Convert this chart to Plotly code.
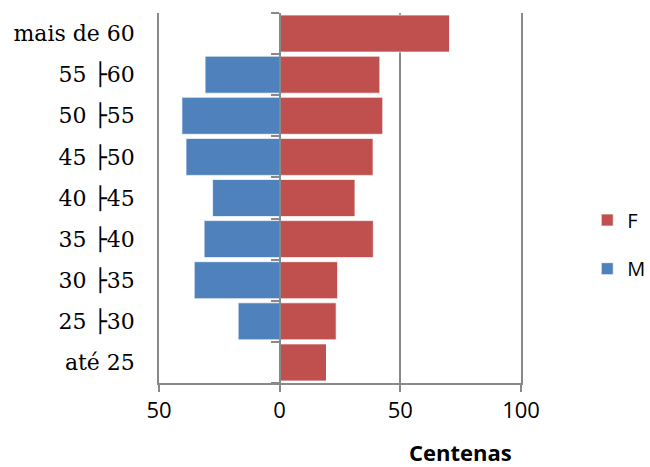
import plotly.graph_objects as go

categories = ["até 25", "25 ├30", "30 ├35", "35 ├40", "40 ├45",
              "45 ├50", "50 ├55", "55 ├60", "mais de 60"]
f_values = [19.4, 23.4, 24.0, 38.8, 31.2, 38.7, 42.7, 41.5, 70.5]
m_values = [0, 17.2, 35.4, 31.3, 27.8, 38.8, 40.5, 30.9, 0]
x_tickvals = [-50, 0, 50, 100]
x_ticktext = ["50", "0", "50", "100"]

RED = "#C0504D"
BLUE = "#4F81BD"
GRID = "#898989"

fig = go.Figure()
fig.add_trace(go.Bar(
    y=categories, x=f_values, orientation="h", name="F",
    marker=dict(color=RED, line=dict(color="rgba(255,255,255,0.7)", width=1)),
    legend="legend",
))
fig.add_trace(go.Bar(
    y=categories, x=[-v for v in m_values], orientation="h", name="M",
    marker=dict(color=BLUE, line=dict(color="rgba(255,255,255,0.7)", width=1)),
    legend="legend2",
))
# invisible helper trace for the category axis drawn at zero
fig.add_trace(go.Scatter(
    y=categories, x=[0] * len(categories), yaxis="y2", mode="markers",
    marker=dict(opacity=0), showlegend=False, hoverinfo="skip",
))

fig.update_layout(
    width=650, height=467,
    margin=dict(l=159, r=129, t=13, b=84, autoexpand=False),
    paper_bgcolor="white", plot_bgcolor="white",
    barmode="relative", bargap=0.1,
    xaxis=dict(
        range=[-50, 100], tickvals=x_tickvals, ticktext=x_ticktext,
        showgrid=True, gridcolor=GRID, gridwidth=1.5,
        showline=True, linecolor=GRID, linewidth=1.5,
        ticks="outside", ticklen=7, tickcolor=GRID, tickwidth=1.5,
        zeroline=False, automargin=False,
        tickfont=dict(family="Open Sans", size=22, color="black"),
    ),
    yaxis=dict(
        type="category", categoryorder="array", categoryarray=categories,
        range=[-0.5, 8.5], showgrid=False, zeroline=False,
        showline=True, mirror=True, linecolor=GRID, linewidth=1.5,
        ticks="outside", ticklen=18, tickcolor="rgba(0,0,0,0)",
        automargin=False,
        tickfont=dict(family="DejaVu Serif", size=22, color="black"),
    ),
    yaxis2=dict(
        type="category", categoryorder="array", categoryarray=categories,
        range=[-0.5, 8.5], overlaying="y", anchor="free", position=1/3,
        side="left", showgrid=False, showticklabels=False,
        showline=True, linecolor=GRID, linewidth=1.5,
        ticks="outside", tickson="boundaries", ticklen=8,
        tickcolor=GRID, tickwidth=1.5, automargin=False,
    ),
    legend=dict(x=1.183, y=0.4405, xanchor="left", yanchor="middle",
                font=dict(family="Open Sans", size=20, color="black"),
                bgcolor="rgba(0,0,0,0)"),
    legend2=dict(x=1.183, y=0.309, xanchor="left", yanchor="middle",
                 font=dict(family="Open Sans", size=20, color="black"),
                 bgcolor="rgba(0,0,0,0)"),
    annotations=[dict(
        text="<b>Centenas</b>", xref="paper", yref="paper",
        x=0.834, y=-0.1865, xanchor="center", yanchor="middle",
        showarrow=False, font=dict(family="Open Sans", size=22, color="black"),
    )],
    showlegend=True,
)

fig.write_html("out.html", config={"displayModeBar": False},
               post_script="document.body.style.margin='0';")
